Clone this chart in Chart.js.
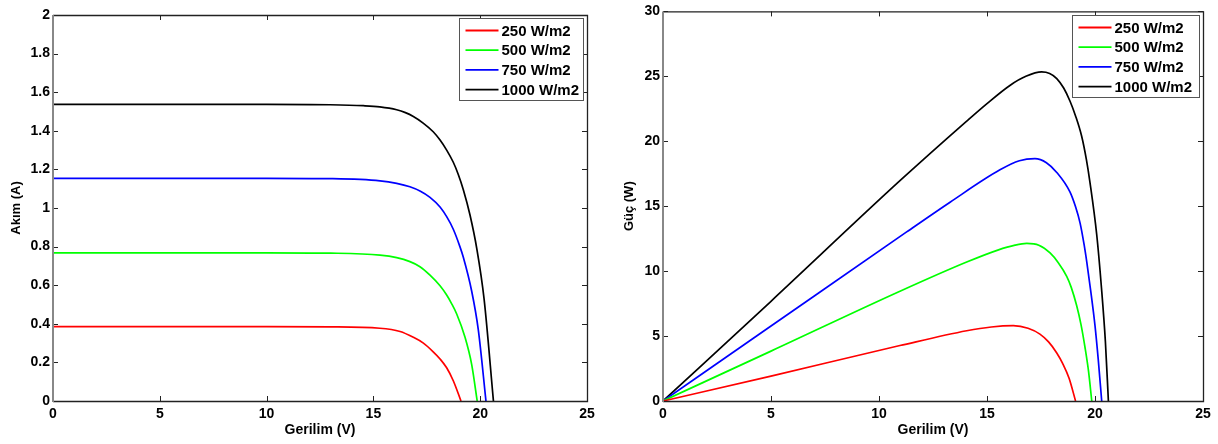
<!DOCTYPE html>
<html>
<head>
<meta charset="utf-8">
<script src="https://cdn.jsdelivr.net/npm/chart.js@4"></script>
<style>
  body { margin: 0; background: #fff; }
  #wrap { position: relative; width: 1218px; height: 444px; overflow: hidden; }
  canvas { position: absolute; top: 0; }
</style>
</head>
<body>
<div id="wrap">
  <canvas id="ivChart" width="600" height="444" style="left:0"></canvas>
  <canvas id="pvChart" width="608" height="444" style="left:610px"></canvas>
</div>
<script>
'use strict';

// series names and colours
var seriesLabels = ['250 W/m2', '500 W/m2', '750 W/m2', '1000 W/m2'];
var seriesColors = ['#ff0000', '#00ff00', '#0000ff', '#000000'];

// akim - gerilim
var ivVolt250 = [0, 5, 10, 13, 15.3, 16.25, 16.87, 17.34, 17.8, 18.12, 18.43, 18.74, 19.1];
var ivAmp250 = [0.385, 0.385, 0.385, 0.384, 0.377, 0.36, 0.33, 0.30, 0.255, 0.218, 0.172, 0.105, 0];
var ivVolt500 = [0, 5, 10, 13, 15.31, 16.09, 16.71, 17.18, 17.65, 18.12, 18.43, 18.66, 18.9, 19.29, 19.6, 19.86];
var ivAmp500 = [0.768, 0.768, 0.768, 0.766, 0.756, 0.743, 0.722, 0.696, 0.652, 0.597, 0.549, 0.505, 0.451, 0.33, 0.19, 0];
var ivVolt750 = [0, 5, 10, 13, 15.31, 16.09, 16.71, 17.18, 17.65, 18.12, 18.43, 18.74, 19.05, 19.21, 19.6, 19.91, 20.27];
var ivAmp750 = [1.154, 1.154, 1.154, 1.152, 1.141, 1.128, 1.11, 1.088, 1.055, 1.005, 0.955, 0.89, 0.80, 0.745, 0.57, 0.37, 0];
var ivVolt1000 = [0, 5, 10, 12.97, 14.53, 15.3, 16.09, 16.5, 16.87, 17.33, 17.8, 18.12, 18.43, 18.74, 18.97, 19.21, 19.52, 19.84, 20.18, 20.62];
var ivAmp1000 = [1.537, 1.537, 1.537, 1.535, 1.53, 1.524, 1.509, 1.494, 1.474, 1.44, 1.395, 1.352, 1.30, 1.237, 1.175, 1.095, 0.965, 0.79, 0.53, 0];

// guc - gerilim
var pvVolt250 = [0, 5, 10.97, 14.06, 15.2, 16.22, 16.9, 17.45, 17.85, 18.23, 18.5, 18.8, 19.1];
var pvWatt250 = [0, 1.92, 4.27, 5.41, 5.7, 5.8, 5.6, 5.15, 4.55, 3.7, 2.9, 1.75, 0];
var pvVolt500 = [0, 5, 10.97, 14.06, 15.5, 16.3, 16.84, 17.4, 17.92, 18.3, 18.69, 18.9, 19.15, 19.35, 19.54, 19.7, 19.85];
var pvWatt500 = [0, 3.84, 8.45, 10.7, 11.62, 12.0, 12.13, 12.0, 11.4, 10.65, 9.6, 8.75, 7.35, 5.9, 4.1, 2.3, 0];
var pvVolt750 = [0, 5, 11.28, 13.29, 15.6, 16.5, 17.22, 17.75, 18.23, 18.84, 19.1, 19.31, 19.5, 19.62, 19.8, 20.0, 20.15, 20.31];
var pvWatt750 = [0, 5.77, 13.02, 15.31, 17.8, 18.5, 18.66, 18.35, 17.6, 16.1, 14.95, 13.7, 12.0, 10.7, 8.5, 5.8, 3.2, 0];
var pvVolt1000 = [0, 5, 10.97, 14.06, 15.0, 16.06, 16.8, 17.53, 17.9, 18.23, 18.55, 18.84, 19.1, 19.38, 19.6, 19.77, 20.08, 20.3, 20.48, 20.62];
var pvWatt1000 = [0, 7.68, 16.96, 21.55, 22.9, 24.3, 25.0, 25.34, 25.22, 24.83, 24.1, 23.1, 21.95, 20.4, 18.6, 16.8, 12.8, 8.7, 4.6, 0];

// tick labels
var voltTicks = [0, 5, 10, 15, 20, 25];
var ampTicks = [0, 0.2, 0.4, 0.6, 0.8, 1, 1.2, 1.4, 1.6, 1.8, 2];
var wattTicks = [0, 5, 10, 15, 20, 25, 30];

var FONT = "'Liberation Sans', Arial, sans-serif";

function toPoints(xs, ys) {
  var pts = [];
  for (var i = 0; i < xs.length; i++) {
    pts.push({x: xs[i], y: ys[i]});
  }
  return pts;
}

function makeDatasets(xsList, ysList) {
  var sets = [];
  for (var i = 0; i < xsList.length; i++) {
    sets.push({
      label: seriesLabels[i],
      data: toPoints(xsList[i], ysList[i]),
      borderColor: seriesColors[i],
      backgroundColor: seriesColors[i],
      borderWidth: 1.7,
      pointRadius: 0,
      showLine: true,
      cubicInterpolationMode: 'monotone'
    });
  }
  return sets;
}

// matlab style box, inward ticks and boxed legend
var framePlugin = {
  id: 'frame',
  afterDatasetsDraw: function(chart, args, opts) {
    var ctx = chart.ctx;
    var a = chart.chartArea;
    var xs = chart.scales.x;
    var ys = chart.scales.y;
    ctx.save();

    ctx.strokeStyle = '#222';
    ctx.lineWidth = 1;
    ctx.beginPath();
    xs.ticks.forEach(function(t) {
      var px = Math.round(xs.getPixelForValue(t.value)) + 0.5;
      ctx.moveTo(px, a.bottom); ctx.lineTo(px, a.bottom - 5);
      ctx.moveTo(px, a.top); ctx.lineTo(px, a.top + 5);
    });
    ys.ticks.forEach(function(t) {
      var py = Math.round(ys.getPixelForValue(t.value)) + 0.5;
      ctx.moveTo(a.left, py); ctx.lineTo(a.left + 5, py);
      ctx.moveTo(a.right, py); ctx.lineTo(a.right - 5, py);
    });
    ctx.stroke();

    ctx.strokeStyle = '#222';
    ctx.lineWidth = 1.3;
    ctx.beginPath();
    ctx.moveTo(a.left, a.top + 0.5);
    ctx.lineTo(a.right + 0.5, a.top + 0.5);
    ctx.lineTo(a.right + 0.5, a.bottom + 0.5);
    ctx.lineTo(a.left, a.bottom + 0.5);
    ctx.stroke();
    ctx.strokeStyle = '#888';
    ctx.lineWidth = 2;
    ctx.beginPath();
    ctx.moveTo(a.left, a.top);
    ctx.lineTo(a.left, a.bottom + 1);
    ctx.stroke();

    // legend
    var w = opts.legendWidth;
    var h = 82;
    var bx = Math.round(a.right - 4 - w) + 0.5;
    var by = Math.round(a.top + opts.legendTop) + 0.5;
    ctx.fillStyle = '#fff';
    ctx.fillRect(bx, by, w, h);
    ctx.strokeStyle = '#555';
    ctx.lineWidth = 1;
    ctx.strokeRect(bx, by, w, h);
    ctx.font = 'bold 15px ' + FONT;
    ctx.textBaseline = 'middle';
    ctx.textAlign = 'left';
    chart.data.datasets.forEach(function(ds, i) {
      var ry = by + 12 + i * 19.7;
      ctx.strokeStyle = ds.borderColor;
      ctx.lineWidth = 1.8;
      ctx.beginPath();
      ctx.moveTo(bx + 6, ry);
      ctx.lineTo(bx + 39, ry);
      ctx.stroke();
      ctx.fillStyle = '#000';
      ctx.fillText(ds.label, bx + 42, ry + 1);
    });
    ctx.restore();
  }
};

function tickText(v) {
  return String(Math.round(v * 10) / 10);
}

function makeChart(id, datasets, yTicks, yMax, yTitle, pad, titleOff, legendWidth, legendTop) {
  return new Chart(document.getElementById(id).getContext('2d'), {
    type: 'scatter',
    data: {datasets: datasets},
    plugins: [framePlugin],
    options: {
      responsive: false,
      animation: false,
      devicePixelRatio: 1,
      layout: {padding: pad},
      plugins: {
        legend: {display: false},
        tooltip: {enabled: false},
        frame: {legendWidth: legendWidth, legendTop: legendTop}
      },
      scales: {
        x: {
          type: 'linear',
          min: 0,
          max: 25,
          afterBuildTicks: function(s) {
            s.ticks = voltTicks.map(function(v) { return {value: v}; });
          },
          afterFit: function(s) { s.height = 43; },
          grid: {display: false, drawTicks: false},
          border: {display: false},
          ticks: {color: '#000', padding: 5, callback: tickText,
                  font: {family: FONT, size: 14, weight: 'bold'}},
          title: {display: true, text: 'Gerilim (V)', color: '#000', padding: {top: 0, bottom: 5},
                  font: {family: FONT, size: 14, weight: 'bold'}}
        },
        y: {
          type: 'linear',
          min: 0,
          max: yMax,
          afterBuildTicks: function(s) {
            s.ticks = yTicks.map(function(v) { return {value: v}; });
          },
          afterFit: function(s) { s.width = 53; },
          grid: {display: false, drawTicks: false},
          border: {display: false},
          ticks: {color: '#000', padding: 3, callback: tickText,
                  font: {family: FONT, size: 14, weight: 'bold'}},
          title: {display: true, text: yTitle, color: '#000', padding: {top: titleOff, bottom: 0},
                  font: {family: FONT, size: 13, weight: 'bold'}}
        }
      }
    }
  });
}

makeChart('ivChart',
  makeDatasets([ivVolt250, ivVolt500, ivVolt750, ivVolt1000], [ivAmp250, ivAmp500, ivAmp750, ivAmp1000]),
  ampTicks, 2, 'Akım (A)', {top: 15, right: 13, left: 0, bottom: 0}, 9, 124, 3);

makeChart('pvChart',
  makeDatasets([pvVolt250, pvVolt500, pvVolt750, pvVolt1000], [pvWatt250, pvWatt500, pvWatt750, pvWatt1000]),
  wattTicks, 30, 'Güç (W)', {top: 7, right: 15, left: 0, bottom: 0}, 12, 127, 4);
</script>
</body>
</html>
